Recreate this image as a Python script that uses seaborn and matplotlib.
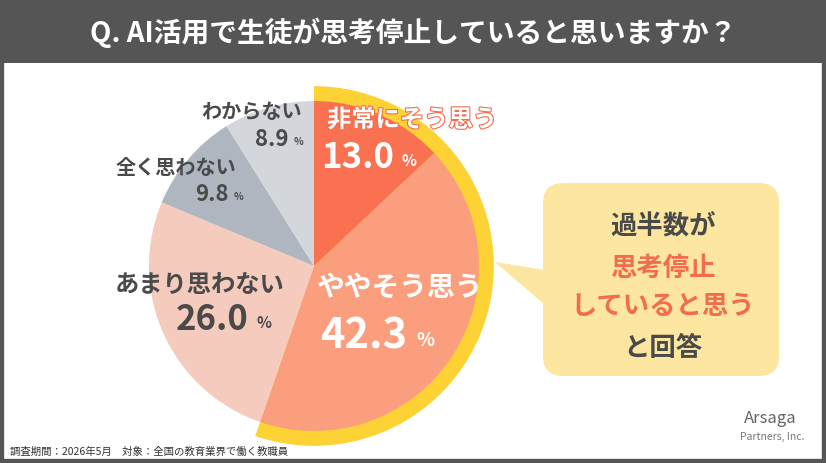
import matplotlib.pyplot as plt
import matplotlib.patches as mpatches
import matplotlib.patheffects as pe
import seaborn as sns

# survey answers, clockwise from 12 o'clock
answers = ["非常にそう思う", "ややそう思う", "あまり思わない", "全く思わない", "わからない"]
shares = [13.0, 42.3, 26.0, 9.8, 8.9]
slice_colors = ["#FA7152", "#FB9E7D", "#F5CBBD", "#AFB6BF", "#D3D6DB"]

title = "Q. AI活用で生徒が思考停止していると思いますか？"
footer = "調査期間：2026年5月　対象：全国の教育業界で働く教職員"
callout = ["過半数が", "思考停止", "していると思う", "と回答"]

DARK = "#555555"
TEXT = "#4A4A4A"
CORAL = "#F26D4F"
YELLOW = "#FDD235"
BOX = "#FDE6A0"

sns.set_theme(style="white")
plt.rcParams["font.family"] = ["Noto Sans CJK JP", "DejaVu Sans"]

W, H = 826, 464
fig = plt.figure(figsize=(W / 100, H / 100), dpi=100)

# background layer in pixel coordinates
bg = fig.add_axes([0, 0, 1, 1], zorder=0)
bg.set_xlim(0, W)
bg.set_ylim(H, 0)
bg.axis("off")
bg.add_patch(mpatches.Rectangle((0, 0), W, H, facecolor="white", edgecolor=DARK, lw=6))
bg.add_patch(mpatches.Rectangle((0, 0), W, 64, facecolor=DARK, edgecolor="none"))
bg.text(W / 2, 33, title, color="white", fontsize=20, fontweight="bold",
        ha="center", va="center")
bg.text(10, 452, footer, color="#333333", fontsize=7.5, ha="left", va="center")

# callout box with pointer
bg.add_patch(mpatches.FancyBboxPatch((543, 184), 236, 193,
                                     boxstyle="round,pad=0,rounding_size=20",
                                     facecolor=BOX, edgecolor="none"))
bg.add_patch(mpatches.Polygon([(495, 263), (552, 272), (552, 312)],
                              closed=True, facecolor=BOX, edgecolor="none"))
callout_y = [226, 268, 307, 349]
callout_c = [TEXT, CORAL, CORAL, TEXT]
for txt, yy, cc in zip(callout, callout_y, callout_c):
    bg.text(663, yy, txt, color=cc, fontsize=19, fontweight="bold",
            ha="center", va="center")

# logo
bg.text(770, 419, "Arsaga", color="#666666", fontsize=12, ha="center", va="center")
bg.text(772, 437, "Partners, Inc.", color="#777777", fontsize=7.5, ha="center", va="center")

# pie: centre (314, 267) px, radius 165 px
cx, cy, r_px, half = 314, 267, 165, 200
pie_ax = fig.add_axes([(cx - half) / W, (H - cy - half) / H, 2 * half / W, 2 * half / H],
                      zorder=1)
pie_ax.axis("off")
palette = sns.color_palette(slice_colors)

agree = shares[0] + shares[1]
pie_ax.add_patch(mpatches.Wedge((0, 0), 1.09, 90 - 360 * agree / 100, 90,
                                facecolor=YELLOW, edgecolor="none", zorder=0))
pie_ax.pie(shares, colors=palette, startangle=90, counterclock=False, radius=1,
           wedgeprops=dict(edgecolor="none", zorder=1))
lim = half / r_px
pie_ax.set_xlim(-lim, lim)
pie_ax.set_ylim(-lim, lim)

# labels on top
fg = fig.add_axes([0, 0, 1, 1], zorder=2)
fg.set_xlim(0, W)
fg.set_ylim(H, 0)
fg.axis("off")
fg.patch.set_alpha(0)

# (label x, label y, label size, number right x, number y, number size, colour, align)
label_pos = [
    (327, 121, 17.5, 394, 158, 25, "white", "left"),
    (317, 288, 20, 407, 337, 30, "white", "left"),
    (200, 285, 17.5, 249, 320, 25, TEXT, "center"),
    (176, 168, 14.5, 229, 195, 16, TEXT, "center"),
    (251, 112, 14.5, 289, 140, 16, TEXT, "center"),
]
for name, val, (lx, ly, ls, nx, ny, ns, col, ha) in zip(answers, shares, label_pos):
    t = fg.text(lx, ly, name, color=col, fontsize=ls, fontweight="bold",
                ha=ha, va="center")
    if name == answers[0]:
        t.set_path_effects([pe.Stroke(linewidth=1.6, foreground=CORAL), pe.Normal()])
    fg.text(nx, ny, f"{val:.1f}", color=col, fontsize=ns, fontweight="bold",
            ha="right", va="center")
    fg.text(nx + ns * 0.3, ny + ns * 0.12, "%", color=col, fontsize=ns * 0.45,
            fontweight="bold", ha="left", va="center")

fig.savefig("out.png", dpi=100)
